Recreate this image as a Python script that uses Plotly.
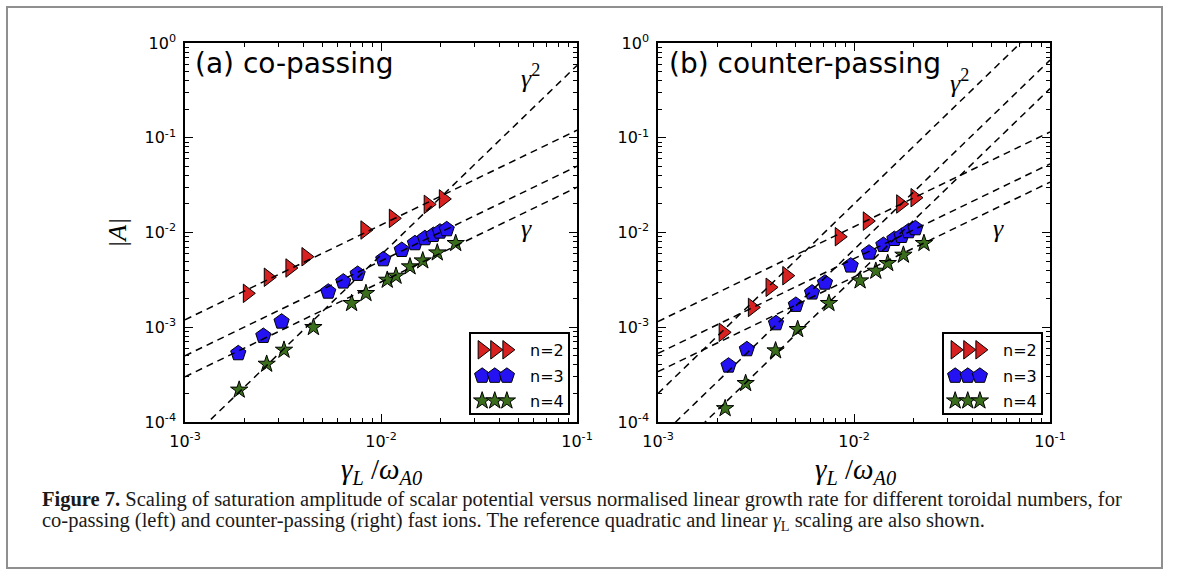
import plotly.graph_objects as go

# ---------------- data ----------------
# (a) co-passing
a_n2_x = [0.00208, 0.00266, 0.00343, 0.00414, 0.00828, 0.01156, 0.01741, 0.0208]
a_n2_y = [0.00228, 0.00337, 0.00422, 0.00555, 0.01062, 0.0141, 0.0198, 0.0226]
a_n3_x = [0.00187, 0.00251, 0.00311, 0.00538, 0.00642, 0.0076, 0.01027, 0.01276,
          0.0149, 0.01675, 0.0185, 0.0200, 0.02164]
a_n3_y = [0.000531, 0.000809, 0.001145, 0.00237, 0.00303, 0.00365, 0.00521, 0.00653,
          0.00769, 0.00869, 0.0094, 0.0102, 0.0108]
a_n4_x = [0.00189, 0.00261, 0.0032, 0.00452, 0.00708, 0.00838, 0.01076, 0.01193,
          0.01406, 0.01633, 0.01937, 0.02405]
a_n4_y = [0.000218, 0.000409, 0.000575, 0.000998, 0.00179, 0.00228, 0.00315, 0.00347,
          0.00436, 0.00504, 0.00612, 0.00769]

# (b) counter-passing
b_n2_x = [0.00215, 0.00303, 0.00373, 0.00454, 0.00841, 0.01169, 0.0173, 0.02047]
b_n2_y = [0.000884, 0.00162, 0.00264, 0.0035, 0.00903, 0.0132, 0.0200, 0.0233]
b_n3_x = [0.00229, 0.00284, 0.0040, 0.00505, 0.00611, 0.00711, 0.00962, 0.01193,
          0.01412, 0.01607, 0.0175, 0.0190, 0.02056]
b_n3_y = [0.000393, 0.000585, 0.0011, 0.00172, 0.00232, 0.00295, 0.00447, 0.00612,
          0.00738, 0.00853, 0.00918, 0.01029, 0.01107]
b_n4_x = [0.0022, 0.0028, 0.00398, 0.00516, 0.00745, 0.01074, 0.01292, 0.01486,
          0.01787, 0.02275]
b_n4_y = [0.000139, 0.000256, 0.000566, 0.000951, 0.00179, 0.0031, 0.00392, 0.00473,
          0.00579, 0.00769]

# reference scaling lines  |A| = C * gamma^p
a_ref_coef = [1.2, 0.50, 0.30, 58.0]
a_ref_pow = [1, 1, 1, 2]
b_ref_coef = [1.15, 0.53, 0.34, 200.0, 66.0, 33.0]
b_ref_pow = [1, 1, 1, 2, 2, 2]
ref_x = [1e-3, 1e-1]

series_names = ["n=2", "n=3", "n=4"]
x_tick_vals = [1e-3, 1e-2, 1e-1]
x_tick_text = ["10<sup>-3</sup>", "10<sup>-2</sup>", "10<sup>-1</sup>"]
y_tick_vals = [1e-4, 1e-3, 1e-2, 1e-1, 1e0]
y_tick_text = ["10<sup>-4</sup>", "10<sup>-3</sup>", "10<sup>-2</sup>",
               "10<sup>-1</sup>", "10<sup>0</sup>"]

# ---------------- styling ----------------
W, H = 1179, 581
RED, BLUE, GREEN = "#d82222", "#2412f2", "#3b6e1c"
styles = [
    dict(symbol="triangle-right", color=RED, size=16),
    dict(symbol="pentagon", color=BLUE, size=16),
    dict(symbol="star", color=GREEN, size=13),
]

def px(x):
    return x / W

def py(y):
    return 1 - y / H

fig = go.Figure()

panels = [
    dict(xa="x", ya="y",
         data=[(a_n2_x, a_n2_y), (a_n3_x, a_n3_y), (a_n4_x, a_n4_y)],
         coef=a_ref_coef, pw=a_ref_pow),
    dict(xa="x2", ya="y2",
         data=[(b_n2_x, b_n2_y), (b_n3_x, b_n3_y), (b_n4_x, b_n4_y)],
         coef=b_ref_coef, pw=b_ref_pow),
]

for p in panels:
    for (xs, ys), st, nm in zip(p["data"], styles, series_names):
        fig.add_trace(go.Scatter(
            x=xs, y=ys, mode="markers", name=nm, showlegend=False,
            xaxis=p["xa"], yaxis=p["ya"],
            marker=dict(symbol=st["symbol"], color=st["color"], size=st["size"],
                        line=dict(color="black", width=1)),
        ))
    for c, k in zip(p["coef"], p["pw"]):
        fig.add_trace(go.Scatter(
            x=ref_x, y=[c * v ** k for v in ref_x], mode="lines", showlegend=False,
            xaxis=p["xa"], yaxis=p["ya"], hoverinfo="skip",
            line=dict(color="black", width=1.5, dash="7px,5px"),
        ))

# custom legends (three markers per entry, matplotlib-like)
leg_axes = [("x3", "y3"), ("x4", "y4")]
leg_mx = [0.115, 0.245, 0.37]
leg_row = [0.80, 0.47, 0.155]
for xa, ya in leg_axes:
    for st, ry in zip(styles, leg_row):
        fig.add_trace(go.Scatter(
            x=leg_mx, y=[ry] * 3, mode="markers", showlegend=False,
            xaxis=xa, yaxis=ya, hoverinfo="skip",
            marker=dict(symbol=st["symbol"], color=st["color"], size=st["size"],
                        line=dict(color="black", width=1)),
        ))

tick_font = dict(family="DejaVu Sans", size=16, color="black")
minor_vals = [m * 10.0 ** e for e in range(-5, 1) for m in range(2, 10)]

def main_axis(domain, anchor, rng, tv, tt):
    return dict(
        type="log", domain=domain, anchor=anchor, range=rng,
        tickmode="array", tickvals=tv, ticktext=tt,
        ticks="inside", ticklen=8, tickwidth=1, tickcolor="black",
        minor=dict(ticks="inside", ticklen=4, tickwidth=1, tickcolor="black",
                   tickmode="array", tickvals=minor_vals, showgrid=False),
        showline=True, linecolor="black", linewidth=1.6, mirror="allticks",
        showgrid=False, zeroline=False, tickfont=tick_font,
        automargin=False, fixedrange=True, ticklabelstandoff=4,
    )

xl = [px(185), px(577)]
xr = [px(658), px(1050)]
yd = [py(422), py(43)]

layout = dict(
    width=W, height=H, margin=dict(l=0, r=0, t=0, b=0),
    paper_bgcolor="white", plot_bgcolor="white", showlegend=False,
    xaxis=main_axis(xl, "y", [-3, -1], x_tick_vals, x_tick_text),
    yaxis=main_axis(yd, "x", [-4, 0], y_tick_vals, y_tick_text),
    xaxis2=main_axis(xr, "y2", [-3, -1], x_tick_vals, x_tick_text),
    yaxis2=main_axis(yd, "x2", [-4, 0], y_tick_vals, y_tick_text),
)

leg_y = [py(413), py(334)]
for i, xd in ((3, [px(471), px(568)]), (4, [px(944), px(1041)])):
    common = dict(range=[0, 1], showline=True, linecolor="black", linewidth=1.6,
                  mirror=True, showticklabels=False, ticks="", showgrid=False,
                  zeroline=False, fixedrange=True)
    layout[f"xaxis{i}"] = dict(domain=xd, anchor=f"y{i}", **common)
    layout[f"yaxis{i}"] = dict(domain=leg_y, anchor=f"x{i}", **common)

fig.update_layout(**layout)

serif = "Liberation Serif"
ann = []
# panel titles
ann.append(dict(x=px(193), y=py(64), text="(a) co-passing", xanchor="left", yanchor="middle",
                font=dict(family="DejaVu Sans", size=28, color="black")))
ann.append(dict(x=px(667), y=py(64), text="(b) counter-passing", xanchor="left", yanchor="middle",
                font=dict(family="DejaVu Sans", size=28, color="black")))
# gamma labels
for x0, y0, t in ((530, 77, "<i>γ</i><sup>2</sup>"), (526, 228, "<i>γ</i>"),
                  (960, 82, "<i>γ</i><sup>2</sup>"), (998, 228, "<i>γ</i>")):
    ann.append(dict(x=px(x0), y=py(y0), text=t, xanchor="center", yanchor="middle",
                    font=dict(family=serif, size=26, color="black")))
# legend text
for x0 in (528, 1001):
    for t, y0 in zip(series_names, (350, 376, 401)):
        ann.append(dict(x=px(x0), y=py(y0), text=t, xanchor="left", yanchor="middle",
                        font=dict(family="DejaVu Sans", size=16, color="black")))
# axis titles
for x0 in (381, 855):
    ann.append(dict(x=px(x0), y=py(471), text="<i>γ<sub>L</sub></i> /<i>ω<sub>A0</sub></i>",
                    xanchor="center", yanchor="middle",
                    font=dict(family=serif, size=29, color="black")))
ann.append(dict(x=px(117), y=py(233), text="<i>|A|</i>", textangle=-90,
                xanchor="center", yanchor="middle",
                font=dict(family=serif, size=26, color="black")))
# caption
ann.append(dict(x=px(40), y=py(499),
                text="<b>Figure 7.</b> Scaling of saturation amplitude of scalar potential versus normalised linear growth rate for different toroidal numbers, for",
                xanchor="left", yanchor="middle",
                font=dict(family=serif, size=20.5, color="#1a1a1a")))
ann.append(dict(x=px(40), y=py(521),
                text="co-passing (left) and counter-passing (right) fast ions. The reference quadratic and linear <i>γ</i><sub>L</sub> scaling are also shown.",
                xanchor="left", yanchor="middle",
                font=dict(family=serif, size=20.5, color="#1a1a1a")))
for a in ann:
    a.update(xref="paper", yref="paper", showarrow=False)

fig.update_layout(
    annotations=ann,
    shapes=[dict(type="rect", xref="paper", yref="paper",
                 x0=px(7), x1=px(1162), y0=py(568), y1=py(7),
                 line=dict(color="#8f8f8f", width=2), layer="below")],
)

fig.write_html(
    "out.html",
    config={"displayModeBar": False},
    post_script="document.body.style.margin='0px';document.body.style.overflow='hidden';",
)
